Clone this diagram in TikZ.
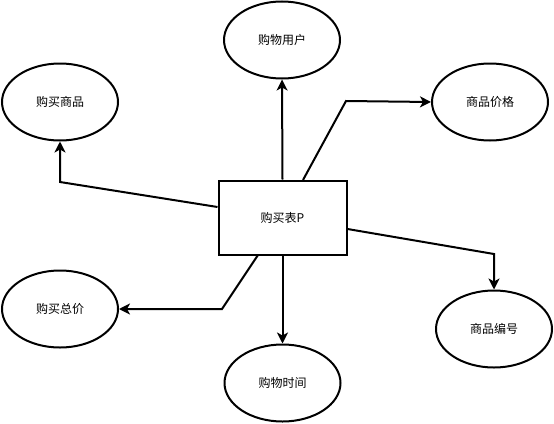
\documentclass[tikz,border=0pt]{standalone}
\usepackage{fontspec}
\newfontfamily\cjk{Noto Sans CJK SC}
\usetikzlibrary{arrows.meta,shapes.geometric}
\begin{document}
\begin{tikzpicture}[x=1pt,y=-1pt,
  attr/.style={draw,ellipse,line width=2pt,minimum width=116pt,minimum height=77pt,inner sep=0pt,font=\cjk\fontsize{12}{14}\selectfont},
  ent/.style={draw,rectangle,line width=2pt,minimum width=128pt,minimum height=74pt,inner sep=0pt,font=\cjk\fontsize{12}{14}\selectfont},
  conn/.style={line width=2pt,-{Stealth[length=11pt,width=11pt,inset=3pt]}}]
\useasboundingbox (0,0) rectangle (554,423);
\node[ent] (p) at (282.5,217.5) {购买表P};
\node[attr] (user) at (282,40) {购物用户};
\node[attr] (goods) at (60,102) {购买商品};
\node[attr] (price) at (490,102) {商品价格};
\node[attr] (total) at (60,309) {购买总价};
\node[attr] (time) at (282.5,383) {购物时间};
\node[attr] (num) at (494,329) {商品编号};
\draw[conn] (p.north) -- (user.south);
\draw[conn] (p.west |- 0,207) -- (60,182) -- (goods.south);
\draw[conn] (303,180) -- (346,101) -- (price.west);
\draw[conn] (p.east |- 0,229) -- (494,254) -- (num.north);
\draw[conn] (258,255) -- (222,309) -- (total.east);
\draw[conn] (p.south) -- (time.north);
\end{tikzpicture}
\end{document}
